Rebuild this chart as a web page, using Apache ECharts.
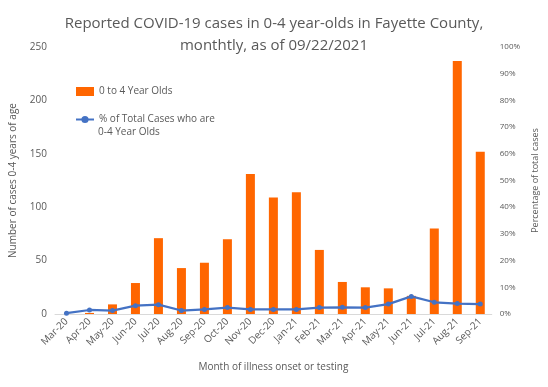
<!DOCTYPE html>
<html><head><meta charset="utf-8">
<script src="https://cdn.jsdelivr.net/npm/echarts@6/dist/echarts.min.js"></script>
<style>html,body{margin:0;padding:0;background:#fff}#c{width:548px;height:387px}</style>
</head><body><div id="c"></div>
<script>
const months = ["Mar-20","Apr-20","May-20","Jun-20","Jul-20","Aug-20","Sep-20","Oct-20","Nov-20","Dec-20","Jan-21","Feb-21","Mar-21","Apr-21","May-21","Jun-21","Jul-21","Aug-21","Sep-21"];
const cases = [0,1,9,29,71,43,48,70,131,109,114,60,30,25,24,17,80,237,152];
const pctOfTotal = [0.3,1.5,1.3,3.1,3.5,1.3,1.7,2.4,1.7,1.7,1.7,2.4,2.5,2.4,3.7,6.6,4.4,3.9,3.7];
const leftTicks = [0,50,100,150,200,250];

const txt = '#595959';
const font = 'Open Sans, Liberation Sans, sans-serif';
const chart = echarts.init(document.getElementById('c'));
chart.setOption({
  animation: false,
  textStyle: {fontFamily: font},
  title: {
    text: 'Reported COVID-19 cases in 0-4 year-olds in Fayette County,\nmonthtly, as of 09/22/2021',
    left: 'center', top: 8,
    textStyle: {fontSize: 15, fontWeight: 'normal', color: txt, lineHeight: 22}
  },
  legend: {
    orient: 'vertical', left: 70, top: 80, itemGap: 15,
    itemWidth: 18, itemHeight: 9,
    textStyle: {fontSize: 10, color: txt, lineHeight: 13},
    data: [
      {name: '0 to 4 Year Olds', icon: 'rect'},
      {name: '% of Total Cases who are'}
    ]
  },
  graphic: [{
    type: 'text', left: 98, top: 127,
    style: {text: '0-4 Year Olds', fill: txt, font: '10px ' + font}
  }],
  grid: {left: 55, right: 48, top: 47, bottom: 73},
  xAxis: {
    type: 'category', data: months,
    axisTick: {show: false},
    axisLine: {lineStyle: {color: '#D9D9D9'}},
    axisLabel: {rotate: 45, fontSize: 10, color: txt, interval: 0, margin: 6},
    name: 'Month of illness onset or testing', nameLocation: 'middle', nameGap: 48,
    nameTextStyle: {fontSize: 10, color: txt}
  },
  yAxis: [
    {
      type: 'value', min: 0, max: 250, interval: 50,
      splitLine: {show: false}, axisLine: {show: false}, axisTick: {show: false},
      axisLabel: {fontSize: 10, color: txt, margin: 8, formatter: v => leftTicks.includes(v) ? String(v) : ''},
      name: 'Number of cases 0-4 years of age', nameLocation: 'middle', nameGap: 37,
      nameTextStyle: {fontSize: 10, color: txt}
    },
    {
      type: 'value', min: 0, max: 100, interval: 10, position: 'right',
      splitLine: {show: false}, axisLine: {show: false}, axisTick: {show: false},
      axisLabel: {fontSize: 8, color: txt, margin: 8, formatter: '{value}%'},
      name: 'Percentage of total cases', nameLocation: 'middle', nameGap: 35,
      nameRotate: 90,
      nameTextStyle: {fontSize: 9, color: txt}
    }
  ],
  series: [
    {
      name: '0 to 4 Year Olds', type: 'bar', data: cases, barWidth: 9,
      itemStyle: {color: '#FF6600'}
    },
    {
      name: '% of Total Cases who are', type: 'line', yAxisIndex: 1,
      data: pctOfTotal, symbol: 'circle', symbolSize: 5,
      lineStyle: {color: '#4472C4', width: 2.25},
      itemStyle: {color: '#4472C4'}
    }
  ]
});
</script></body></html>
